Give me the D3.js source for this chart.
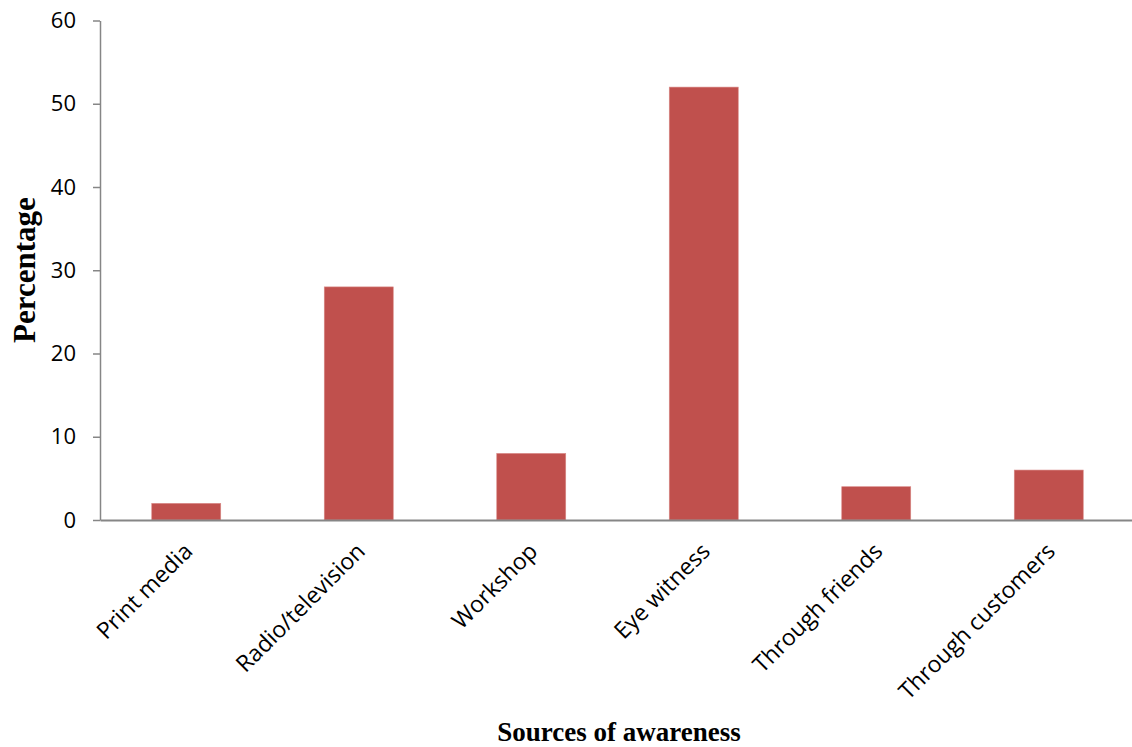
<!DOCTYPE html>
<html>
<head>
<meta charset="utf-8">
<script src="https://cdn.jsdelivr.net/npm/d3@7"></script>
<style>
  html, body { margin: 0; padding: 0; background: #fff; }
  svg { display: block; }
</style>
</head>
<body>
<svg id="chart" width="1132" height="747"></svg>
<script>
// Sources of awareness (percentage of respondents)
const categories = ["Print media", "Radio/television", "Workshop", "Eye witness", "Through friends", "Through customers"];
const percentages = [2, 28, 8, 52, 4, 6];
const yTicks = [0, 10, 20, 30, 40, 50, 60];

const svg = d3.select("#chart");
const plotLeft = 100, plotRight = 1135, plotTop = 20.5, plotBottom = 520;

const x = d3.scaleBand()
  .domain(categories)
  .range([plotLeft, plotRight])
  .paddingInner(0.6)
  .paddingOuter(0.3);

const y = d3.scaleLinear().domain([0, 60]).range([plotBottom, plotTop]);

const axisColor = "#868686";
const labelFont = "'Open Sans', 'Noto Sans', sans-serif";

// Bars
svg.append("g")
  .selectAll("rect")
  .data(percentages)
  .join("rect")
  .attr("x", (d, i) => x(categories[i]))
  .attr("y", d => y(d))
  .attr("width", x.bandwidth())
  .attr("height", d => y(0) - y(d))
  .attr("fill", "#C0504D")
  .attr("stroke", "#d98a88")
  .attr("stroke-width", 0.6);

// Y axis
const yAxis = svg.append("g")
  .attr("transform", `translate(${plotLeft},0)`)
  .call(d3.axisLeft(y).tickValues(yTicks).tickSize(7).tickPadding(17).tickSizeOuter(0));
yAxis.select(".domain").attr("stroke", axisColor).attr("stroke-width", 1.5);
yAxis.selectAll(".tick line").attr("stroke", axisColor).attr("stroke-width", 1.5);
yAxis.selectAll(".tick text")
  .attr("fill", "#000")
  .style("font-family", labelFont)
  .style("font-size", "22px");

// X axis
const xAxis = svg.append("g")
  .attr("transform", `translate(0,${plotBottom})`)
  .call(d3.axisBottom(x).tickSize(0).tickSizeOuter(0).tickFormat(""));
xAxis.select(".domain").attr("stroke", axisColor).attr("stroke-width", 2);

// Rotated category labels
svg.append("g")
  .selectAll("text")
  .data(categories)
  .join("text")
  .attr("transform", d => `translate(${x(d) + x.bandwidth() / 2 + 2},${plotBottom + 27}) rotate(-45)`)
  .attr("text-anchor", "end")
  .attr("dy", "0.35em")
  .style("font-family", labelFont)
  .style("font-size", "23px")
  .attr("fill", "#000")
  .text(d => d);

// Axis titles
svg.append("text")
  .attr("transform", `translate(35,270) rotate(-90)`)
  .attr("text-anchor", "middle")
  .style("font-family", "'Liberation Serif', 'Times New Roman', serif")
  .style("font-weight", "bold")
  .style("font-size", "31px")
  .text("Percentage");

svg.append("text")
  .attr("x", 619)
  .attr("y", 741)
  .attr("text-anchor", "middle")
  .style("font-family", "'Liberation Serif', 'Times New Roman', serif")
  .style("font-weight", "bold")
  .style("font-size", "27px")
  .text("Sources of awareness");
</script>
</body>
</html>
